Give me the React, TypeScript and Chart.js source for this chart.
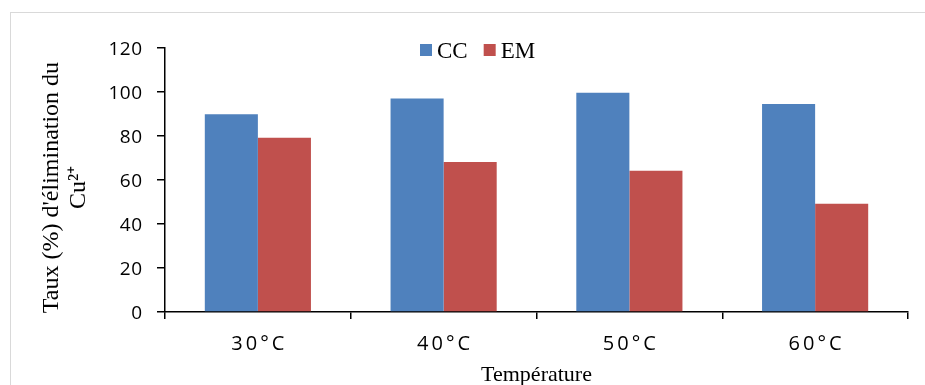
import React, { useEffect, useRef } from "react";
import { Chart, registerables } from "chart.js";

Chart.register(...registerables);

const categories = ["30°C", "40°C", "50°C", "60°C"];
const seriesNames = ["CC", "EM"];
const ccValues = [89.9, 97.1, 99.7, 94.5];
const emValues = [79.2, 68.2, 64.2, 49.2];
const seriesColors = ["#4F81BD", "#C0504D"];
const yTicks = [0, 20, 40, 60, 80, 100, 120];
const yTitle = ["Taux (%) d'élimination du", "Cu²⁺"];
const xTitle = "Température";

export default function App() {
  const ref = useRef<HTMLCanvasElement>(null);

  useEffect(() => {
    const canvas = ref.current;
    if (!canvas) return;

    const patch = (scale: any, key: string, fn: (c: any, orig: () => void) => void) => {
      const flag = "__p_" + key;
      if (!scale || scale[flag]) return;
      scale[flag] = true;
      const orig = scale[key].bind(scale);
      scale[key] = (...args: any[]) => {
        const c = scale.ctx;
        c.save();
        fn(c, () => orig(...args));
        c.restore();
      };
    };

    const framePlugin = {
      id: "frame",
      beforeDraw(chart: any) {
        const ctx = chart.ctx;
        ctx.save();
        ctx.fillStyle = "#ffffff";
        ctx.fillRect(0, 0, chart.width, chart.height);
        ctx.strokeStyle = "#d9d9d9";
        ctx.lineWidth = 1;
        ctx.strokeRect(10.5, 12.5, 1000, 1000);
        ctx.restore();

        patch(chart.scales.x, "drawLabels", (c, run) => {
          c.letterSpacing = "3px";
          c.translate(1.5, 0);
          run();
        });
        patch(chart.scales.y, "drawLabels", (c, run) => {
          c.letterSpacing = "0.5px";
          c.translate(0.5, 1.5);
          run();
        });
        patch(chart.scales.y, "drawTitle", (c, run) => {
          c.translate(0, 7.5);
          run();
        });
      },
    };

    const legendPlugin = {
      id: "customLegend",
      afterDraw(chart: any) {
        const ctx = chart.ctx;
        ctx.save();
        ctx.font = '23px "Liberation Serif"';
        ctx.textBaseline = "alphabetic";
        let x = 420;
        chart.data.datasets.forEach((ds: any) => {
          ctx.fillStyle = ds.backgroundColor;
          ctx.fillRect(x, 44, 12, 12);
          x += 17;
          ctx.fillStyle = "#000";
          ctx.fillText(ds.label, x, 58);
          x += ctx.measureText(ds.label).width + 16;
        });
        ctx.restore();
      },
    };

    const chart = new Chart(canvas, {
      type: "bar",
      data: {
        labels: categories,
        datasets: [
          {
            label: seriesNames[0],
            data: ccValues,
            backgroundColor: seriesColors[0],
            categoryPercentage: 2 / 3.5,
            barPercentage: 1,
          },
          {
            label: seriesNames[1],
            data: emValues,
            backgroundColor: seriesColors[1],
            categoryPercentage: 2 / 3.5,
            barPercentage: 1,
          },
        ],
      },
      options: {
        animation: false,
        responsive: false,
        devicePixelRatio: 1,
        layout: { padding: { left: 0, right: 17, top: 48, bottom: 0 } },
        plugins: {
          legend: { display: false },
          tooltip: { enabled: false },
        },
        scales: {
          x: {
            grid: {
              display: true,
              offset: true,
              drawOnChartArea: false,
              drawTicks: true,
              tickLength: 7,
              color: "#000",
              lineWidth: 1.5,
            },
            border: { display: true, color: "#000", width: 1.5 },
            ticks: {
              color: "#000",
              font: { family: '"Open Sans"', size: 20 },
              padding: 13,
              maxRotation: 0,
            },
            title: {
              display: true,
              text: xTitle,
              color: "#000",
              font: { family: '"Liberation Serif"', size: 22, lineHeight: 0.85 },
              padding: 0,
            },
            afterFit: (s: any) => {
              s.height = 73;
            },
          },
          y: {
            min: 0,
            max: 120,
            afterBuildTicks: (s: any) => {
              s.ticks = yTicks.map((v) => ({ value: v }));
            },
            grid: {
              display: true,
              drawOnChartArea: false,
              drawTicks: true,
              tickLength: 8,
              color: "#000",
              lineWidth: 1.5,
            },
            border: { display: true, color: "#000", width: 1.5 },
            ticks: {
              color: "#000",
              font: { family: '"Open Sans"', size: 19 },
              padding: 15,
            },
            title: {
              display: true,
              text: yTitle,
              color: "#000",
              font: { family: '"Liberation Serif"', size: 24, lineHeight: 1.125 },
              padding: { top: 38.5, bottom: 0 },
            },
            afterFit: (s: any) => {
              s.width = 165;
            },
          },
        },
      },
      plugins: [framePlugin, legendPlugin],
    });

    return () => {
      chart.destroy();
    };
  }, []);

  return (
    <div style={{ position: "absolute", left: 0, top: 0, width: 925, height: 385 }}>
      <canvas ref={ref} width={925} height={385} style={{ display: "block" }} />
    </div>
  );
}
